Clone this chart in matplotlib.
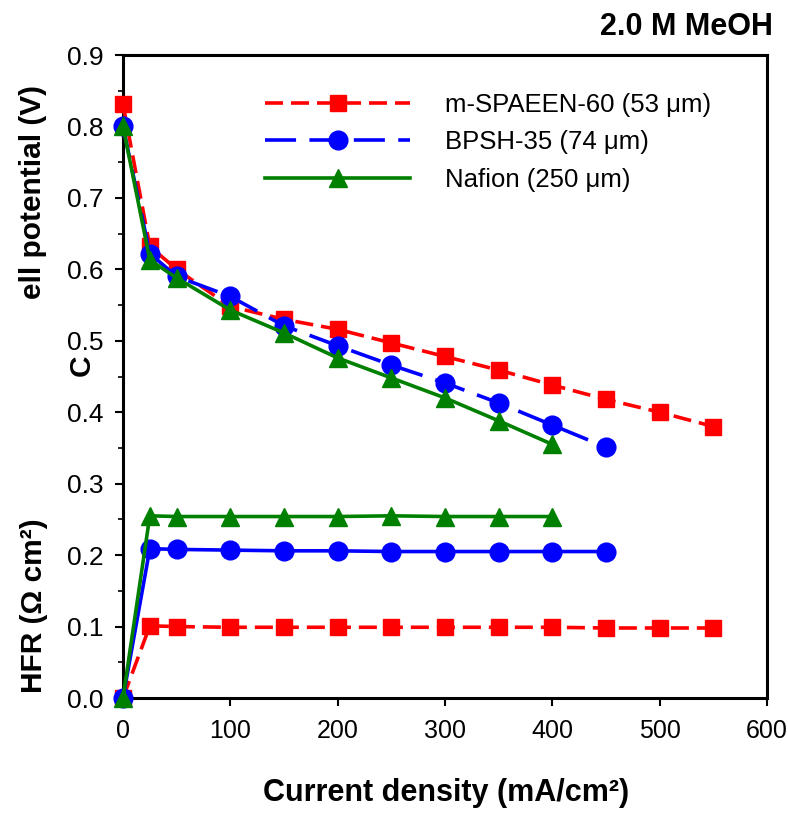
import numpy as np
import matplotlib.pyplot as plt
from matplotlib.ticker import MultipleLocator

# current density (mA/cm2)
x_spaeen = [0, 25, 50, 100, 150, 200, 250, 300, 350, 400, 450, 500, 550]
x_bpsh = [0, 25, 50, 100, 150, 200, 250, 300, 350, 400, 450]
x_nafion = [0, 25, 50, 100, 150, 200, 250, 300, 350, 400]

# cell potential (V)
v_spaeen = [0.831, 0.632, 0.600, 0.548, 0.530, 0.516, 0.497, 0.478, 0.459, 0.438, 0.418, 0.400, 0.380]
v_bpsh = [0.800, 0.622, 0.590, 0.562, 0.521, 0.493, 0.466, 0.441, 0.413, 0.382, 0.351]
v_nafion = [0.800, 0.613, 0.588, 0.543, 0.511, 0.476, 0.448, 0.420, 0.388, 0.355]

# HFR (ohm cm2)
h_spaeen = [0.0, 0.101, 0.100, 0.099, 0.099, 0.099, 0.099, 0.099, 0.099, 0.099, 0.098, 0.098, 0.098]
h_bpsh = [0.0, 0.209, 0.208, 0.207, 0.206, 0.206, 0.205, 0.205, 0.205, 0.205, 0.205]
h_nafion = [0.0, 0.255, 0.254, 0.254, 0.254, 0.254, 0.255, 0.254, 0.254, 0.254]

labels = ['m-SPAEEN-60 (53 \u03bcm)', 'BPSH-35 (74 \u03bcm)', 'Nafion (250 \u03bcm)']

plt.rcParams['font.family'] = ['Liberation Sans', 'DejaVu Sans']

W, H = 788, 813
fig = plt.figure(figsize=(W / 100, H / 100), dpi=100)
ax = fig.add_axes([123 / W, 1 - 698 / H, (767 - 123) / W, (698 - 55) / H])

lw = 2.6
red_dash = (5.0, 2.2)
blue_dash = (8.6, 3.7)
ms_sq, ms_ci, ms_tr = 11, 13.5, 13.5

# potential curves
l1, = ax.plot(x_spaeen, v_spaeen, color='red', lw=lw, dashes=red_dash, marker='s',
              ms=ms_sq, zorder=3, clip_on=False)
l2, = ax.plot(x_bpsh, v_bpsh, color='blue', lw=lw, dashes=blue_dash, marker='o',
              ms=ms_ci, zorder=4, clip_on=False)
l3, = ax.plot(x_nafion, v_nafion, color='green', lw=lw, marker='^',
              ms=ms_tr, zorder=5, clip_on=False)

# HFR curves
ax.plot(x_spaeen, h_spaeen, color='red', lw=lw, dashes=red_dash, marker='s',
        ms=ms_sq, zorder=3, clip_on=False)
ax.plot(x_bpsh, h_bpsh, color='blue', lw=lw, marker='o', ms=ms_ci, zorder=4, clip_on=False)
ax.plot(x_nafion, h_nafion, color='green', lw=lw, marker='^', ms=ms_tr, zorder=5, clip_on=False)

ax.set_xlim(0, 600)
ax.set_ylim(0, 0.9)
ax.xaxis.set_major_locator(MultipleLocator(100))
ax.yaxis.set_major_locator(MultipleLocator(0.1))
ax.yaxis.set_minor_locator(MultipleLocator(0.05))
ax.yaxis.set_major_formatter(plt.FormatStrFormatter('%.1f'))
ax.tick_params(axis='both', which='major', direction='out', length=6, width=1.5,
               top=False, right=False)
ax.tick_params(axis='y', which='minor', direction='out', length=3.5, width=1.2)
ax.tick_params(axis='y', labelsize=19, pad=8)
ax.tick_params(axis='x', labelsize=18, pad=9)
for s in ax.spines.values():
    s.set_linewidth(2.2)

leg = ax.legend([l1, l2, l3], labels, loc='upper left',
                bbox_to_anchor=(265 / W, 1 - 93 / H), bbox_transform=fig.transFigure,
                frameon=False, borderpad=0, borderaxespad=0, numpoints=1,
                handlelength=5.65, handletextpad=1.35, labelspacing=0.52, fontsize=18.5)

lab_kw = dict(fontweight='bold', fontsize=21.5, rotation=90,
              ha='center', va='center')
fig.text(33 / W, 1 - 192 / H, 'ell potential (V)', **lab_kw)
fig.text(82 / W, 1 - 365 / H, 'C', **lab_kw)
fig.text(34 / W, 1 - 606 / H, 'HFR (\u03a9 cm\u00b2)', **lab_kw)
fig.text(446 / W, 1 - 793 / H, 'Current density (mA/cm\u00b2)', fontweight='bold',
         fontsize=22, ha='center', va='center')
fig.text(773 / W, 1 - 27 / H, '2.0 M MeOH', fontweight='bold', fontsize=22,
         ha='right', va='center')

fig.savefig('out.png', dpi=100)
